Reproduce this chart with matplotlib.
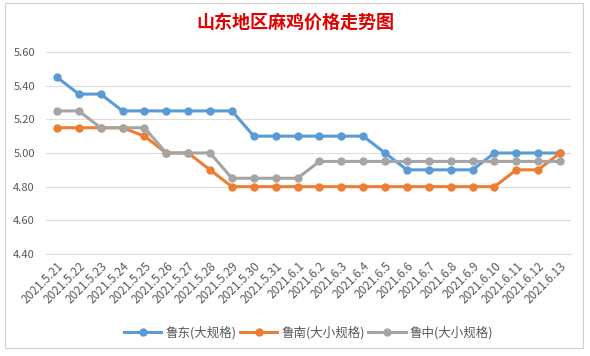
import matplotlib.pyplot as plt
from matplotlib.patches import Rectangle
import numpy as np

plt.rcParams['font.family'] = ['Noto Sans CJK SC', 'DejaVu Sans']

# 数据
dates = ['2021.5.21', '2021.5.22', '2021.5.23', '2021.5.24', '2021.5.25', '2021.5.26',
         '2021.5.27', '2021.5.28', '2021.5.29', '2021.5.30', '2021.5.31', '2021.6.1',
         '2021.6.2', '2021.6.3', '2021.6.4', '2021.6.5', '2021.6.6', '2021.6.7',
         '2021.6.8', '2021.6.9', '2021.6.10', '2021.6.11', '2021.6.12', '2021.6.13']
ludong = [5.45, 5.35, 5.35, 5.25, 5.25, 5.25, 5.25, 5.25, 5.25, 5.10, 5.10, 5.10,
          5.10, 5.10, 5.10, 5.00, 4.90, 4.90, 4.90, 4.90, 5.00, 5.00, 5.00, 5.00]
lunan = [5.15, 5.15, 5.15, 5.15, 5.10, 5.00, 5.00, 4.90, 4.80, 4.80, 4.80, 4.80,
         4.80, 4.80, 4.80, 4.80, 4.80, 4.80, 4.80, 4.80, 4.80, 4.90, 4.90, 5.00]
luzhong = [5.25, 5.25, 5.15, 5.15, 5.15, 5.00, 5.00, 5.00, 4.85, 4.85, 4.85, 4.85,
           4.95, 4.95, 4.95, 4.95, 4.95, 4.95, 4.95, 4.95, 4.95, 4.95, 4.95, 4.95]
labels = ['鲁东(大规格)', '鲁南(大小规格)', '鲁中(大小规格)']
colors = ['#5B9BD5', '#ED7D31', '#A5A5A5']

fig = plt.figure(figsize=(5.9, 3.56), dpi=100)
ax = fig.add_axes([46/590, 1-254/356, 525/590, 202/356])

# 图表边框
fig.patches.append(Rectangle((5/590, 1-348/356), 578/590, 345/356, transform=fig.transFigure,
                             fill=False, edgecolor='#D0D0D0', linewidth=0.8))

x = np.arange(len(dates))
for vals, lab, c in zip([ludong, lunan, luzhong], labels, colors):
    ax.plot(x, vals, color=c, linewidth=2.2, marker='o', markersize=5, label=lab)

ax.set_xlim(-0.5, len(dates) - 0.5)
ax.set_ylim(4.40, 5.60)
ax.set_yticks(np.arange(4.40, 5.61, 0.20))
ax.set_yticklabels([f'{v:.2f}' for v in np.arange(4.40, 5.61, 0.20)])
ax.set_xticks(x)
ax.set_xticklabels(dates, rotation=45, ha='right', rotation_mode='anchor')
ax.tick_params(axis='both', length=0, labelcolor='#595959')
ax.tick_params(axis='y', pad=8, labelsize=8)
ax.tick_params(axis='x', pad=4, labelsize=8.5)
ax.grid(axis='y', color='#DDDDDD', linewidth=0.8)
ax.set_axisbelow(True)
for s in ['top', 'right', 'left']:
    ax.spines[s].set_visible(False)
ax.spines['bottom'].set_color('#DDDDDD')

fig.text(0.5, 1-22/356, '山东地区麻鸡价格走势图', ha='center', va='center',
         fontsize=13, fontweight='bold', color='#E00000')

ax.legend(loc='center', bbox_to_anchor=(0.5, -(333-254)/202), ncol=3, frameon=False,
          fontsize=9, labelcolor='#595959', handlelength=3, columnspacing=0.3,
          handletextpad=0.3)

plt.savefig('out.png', dpi=100)
